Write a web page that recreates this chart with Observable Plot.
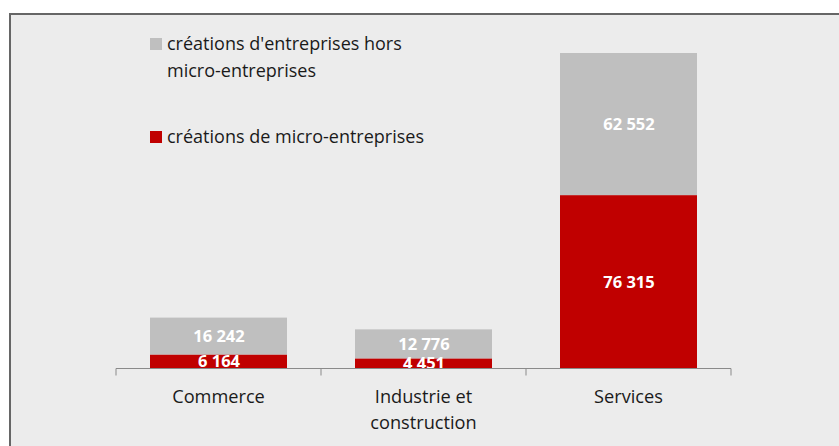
<!DOCTYPE html>
<html>
<head>
<meta charset="utf-8">
<script src="https://cdn.jsdelivr.net/npm/d3@7"></script>
<script src="https://cdn.jsdelivr.net/npm/@observablehq/plot@0.6"></script>
<style>
  html, body { margin: 0; padding: 0; background: #ffffff; overflow: hidden; }
  #wrap { position: relative; width: 839px; height: 446px; }
  #panel { position: absolute; left: 9px; top: 13px; width: 840px; height: 450px;
           background: #ececec; border: 2.5px solid #666666; box-sizing: border-box; }
  #chart { position: absolute; left: 0; top: 0; }
  #legend { position: absolute; left: 150px; top: 30px; font-family: "Open Sans", sans-serif;
            font-size: 18px; color: #1a1a1a; }
  .item { position: absolute; left: 0; white-space: nowrap; line-height: 26.5px; }
  .sw { position: absolute; left: 0; top: 8px; width: 12px; height: 12px; }
  .lab { position: absolute; left: 17px; top: 0; }
</style>
</head>
<body>
<div id="wrap">
  <div id="panel"></div>
  <div id="chart"></div>
  <div id="legend"></div>
</div>
<script>
const categories = ["Commerce", "Industrie et construction", "Services"];
const categoryLines = [["Commerce"], ["Industrie et", "construction"], ["Services"]];
const seriesNames = ["créations de micro-entreprises", "créations d'entreprises hors micro-entreprises"];
const legendLines = [["créations d'entreprises hors", "micro-entreprises"], ["créations de micro-entreprises"]];
const microValues = [6164, 4451, 76315];
const horsMicroValues = [16242, 12776, 62552];
const seriesColors = ["#c00000", "#bfbfbf"];

const fr = d3.formatLocale({decimal: ",", thousands: "\u00a0", grouping: [3], currency: ["", " €"]});
const fmt = fr.format(",d");

const data = [];
categories.forEach((c, i) => {
  data.push({cat: c, serie: seriesNames[0], value: microValues[i]});
  data.push({cat: c, serie: seriesNames[1], value: horsMicroValues[i]});
});

const maxTotal = d3.max(categories, (c, i) => microValues[i] + horsMicroValues[i]);

const font = '"Open Sans", sans-serif';

function bandOf(x) {
  return typeof x.bandwidth === "function" ? x.bandwidth() : x.bandwidth;
}

const boundaryTicks = (index, scales) => {
  const x = scales.x, y = scales.y;
  const bw = bandOf(x);
  const step = x(categories[1]) - x(categories[0]);
  const gap = (step - bw) / 2;
  const xs = categories.map(c => x(c) - gap);
  xs.push(x(categories[categories.length - 1]) + bw + gap);
  const y0 = y(0);
  const g = d3.create("svg:g");
  g.append("line").attr("x1", xs[0]).attr("x2", xs[xs.length - 1]).attr("y1", y0).attr("y2", y0)
    .attr("stroke", "#8a8a8a").attr("stroke-width", 1);
  xs.forEach(v => g.append("line").attr("x1", v).attr("x2", v).attr("y1", y0).attr("y2", y0 + 7)
    .attr("stroke", "#8a8a8a").attr("stroke-width", 1));
  return g.node();
};

const catLabels = (index, scales) => {
  const x = scales.x, y = scales.y;
  const bw = bandOf(x);
  const g = d3.create("svg:g").attr("font-family", font).attr("font-size", 18.2).attr("fill", "#1a1a1a")
    .attr("text-anchor", "middle");
  categories.forEach((c, i) => {
    const cx = x(c) + bw / 2;
    categoryLines[i].forEach((line, j) => {
      g.append("text").attr("x", cx).attr("y", y(0) + 28 + j * 26.5).attr("dy", "0.35em").text(line);
    });
  });
  return g.node();
};

const chart = Plot.plot({
  width: 839,
  height: 446,
  marginLeft: 116,
  marginRight: 107,
  marginTop: 53,
  marginBottom: 77.5,
  style: {background: "transparent", fontFamily: font},
  x: {domain: categories, paddingInner: 0.33, paddingOuter: 0.165, axis: null},
  y: {domain: [0, maxTotal], axis: null},
  color: {domain: seriesNames, range: seriesColors},
  marks: [
    Plot.barY(data, {x: "cat", y: "value", fill: "serie", order: seriesNames}),
    Plot.text(data, Plot.stackY({x: "cat", y: "value", z: "serie", order: seriesNames,
      text: d => fmt(d.value), fill: "white", fontWeight: "bold", fontSize: 16.5, fontFamily: font})),
    boundaryTicks,
    catLabels
  ]
});
document.getElementById("chart").appendChild(chart);

// legend
const legend = document.getElementById("legend");
const legendOrder = [1, 0];
const tops = [0, 93];
legendOrder.forEach((si, k) => {
  const item = document.createElement("div");
  item.className = "item";
  item.style.top = tops[k] + "px";
  const sw = document.createElement("div");
  sw.className = "sw";
  sw.style.background = seriesColors[si];
  item.appendChild(sw);
  const lab = document.createElement("div");
  lab.className = "lab";
  lab.innerHTML = legendLines[k].join("<br>");
  item.appendChild(lab);
  legend.appendChild(item);
});
</script>
</body>
</html>
